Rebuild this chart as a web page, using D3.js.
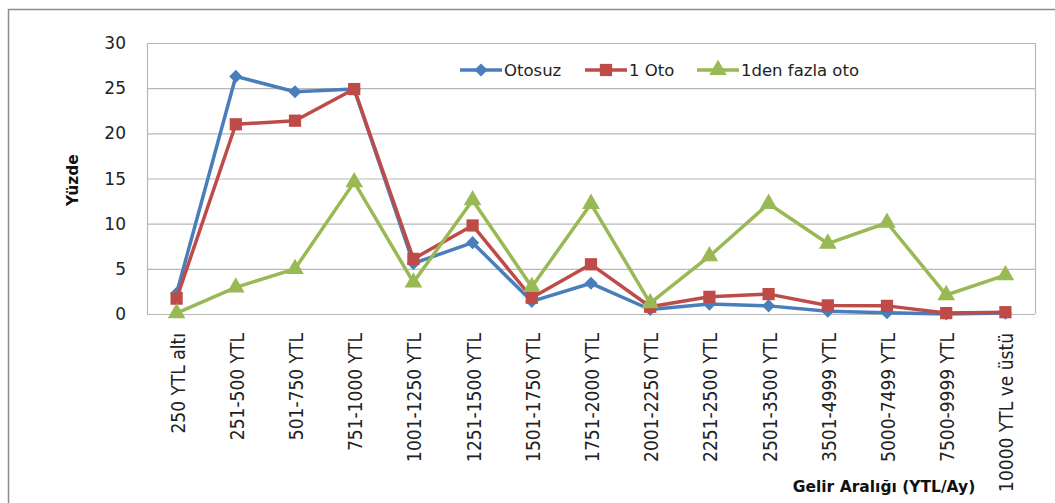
<!DOCTYPE html>
<html>
<head>
<meta charset="utf-8">
<script src="https://cdn.jsdelivr.net/npm/d3@7"></script>
<style>
  body { margin: 0; background: #fff; }
  svg { display: block; }
</style>
</head>
<body>
<div id="chart"></div>
<script>
// gelir araliklari (x ekseni)
const categories = ['250 YTL altı', '251-500 YTL', '501-750 YTL', '751-1000 YTL',
  '1001-1250 YTL', '1251-1500 YTL', '1501-1750 YTL', '1751-2000 YTL',
  '2001-2250 YTL', '2251-2500 YTL', '2501-3500 YTL', '3501-4999 YTL',
  '5000-7499 YTL', '7500-9999 YTL', '10000  YTL ve üstü'];

const seriesNames = ['Otosuz', '1 Oto', '1den fazla oto'];

const otosuz = [2.3, 26.3, 24.6, 24.9, 5.6, 7.9, 1.4, 3.4, 0.5, 1.1, 0.9, 0.3, 0.15, 0.0, 0.1];
const birOto = [1.7, 21.0, 21.4, 24.9, 6.1, 9.8, 1.8, 5.5, 0.8, 1.9, 2.2, 0.95, 0.9, 0.1, 0.2];
const fazlaOto = [0.1, 2.95, 5.0, 14.6, 3.5, 12.6, 3.0, 12.2, 1.2, 6.4, 12.2, 7.8, 10.1, 2.1, 4.3];

const yTicks = [0, 5, 10, 15, 20, 25, 30];

const width = 1055, height = 503;
const plot = { left: 147, top: 43, right: 1035, bottom: 314 };

const svg = d3.select('#chart').append('svg')
  .attr('width', width).attr('height', height);

// dis cerceve
svg.append('path')
  .attr('d', 'M8.5,503 V9.5 H1055')
  .attr('fill', 'none').attr('stroke', '#8c8c8c').attr('stroke-width', 1.5);

const x = d3.scaleBand().domain(categories).range([plot.left, plot.right]);
const y = d3.scaleLinear().domain([0, 30]).range([plot.bottom, plot.top]);

// yatay cizgiler
svg.append('g').selectAll('line').data(yTicks).enter().append('line')
  .attr('x1', plot.left).attr('x2', plot.right)
  .attr('y1', d => y(d) + 0.5).attr('y2', d => y(d) + 0.5)
  .attr('stroke', '#b8b8b8').attr('stroke-width', 1.2);

svg.append('line')
  .attr('x1', plot.left + 0.5).attr('x2', plot.left + 0.5)
  .attr('y1', plot.top).attr('y2', plot.bottom)
  .attr('stroke', '#b8b8b8').attr('stroke-width', 1.2);
svg.append('line')
  .attr('x1', plot.right + 0.5).attr('x2', plot.right + 0.5)
  .attr('y1', plot.top).attr('y2', plot.bottom)
  .attr('stroke', '#b8b8b8').attr('stroke-width', 1.2);

// y ekseni etiketleri
svg.append('g').selectAll('text').data(yTicks).enter().append('text')
  .attr('x', 126).attr('y', d => y(d))
  .attr('dy', '0.36em')
  .attr('text-anchor', 'end')
  .attr('font-family', 'DejaVu Sans, sans-serif')
  .attr('font-size', 17)
  .attr('fill', '#222')
  .text(d => d);

svg.append('text')
  .attr('transform', 'translate(78,180) rotate(-90)')
  .attr('text-anchor', 'middle')
  .attr('font-family', 'DejaVu Sans, sans-serif')
  .attr('font-weight', 'bold')
  .attr('font-size', 15.5)
  .attr('fill', '#111')
  .text('Yüzde');

// x ekseni etiketleri
svg.append('g').selectAll('text').data(categories).enter().append('text')
  .attr('transform', d => 'translate(' + (x(d) + x.bandwidth() / 2 + 8) + ',333) rotate(-90)')
  .attr('text-anchor', 'end')
  .attr('font-family', 'Liberation Sans Narrow, DejaVu Sans Condensed, sans-serif')
  .attr('font-size', 19)
  .attr('fill', '#222')
  .text(d => d);

svg.append('text')
  .attr('x', 884).attr('y', 492)
  .attr('text-anchor', 'middle')
  .attr('font-family', 'DejaVu Sans, sans-serif')
  .attr('font-weight', 'bold')
  .attr('font-size', 15.5)
  .attr('fill', '#111')
  .text('Gelir Aralığı (YTL/Ay)');

const colors = ['#4a7ebb', '#be4b48', '#98b954'];
const allSeries = [otosuz, birOto, fazlaOto];
const symbols = [
  d3.symbol().type(d3.symbolDiamond2).size(110),
  d3.symbol().type(d3.symbolSquare).size(150),
  d3.symbol().type(d3.symbolTriangle).size(135)
];

const line = d3.line()
  .x((d, i) => x(categories[i]) + x.bandwidth() / 2)
  .y(d => y(d));

allSeries.forEach((vals, s) => {
  const g = svg.append('g');
  g.append('path')
    .attr('d', line(vals))
    .attr('fill', 'none')
    .attr('stroke', colors[s])
    .attr('stroke-width', 3.5)
    .attr('stroke-linejoin', 'round');
  g.selectAll('path.m').data(vals).enter().append('path')
    .attr('class', 'm')
    .attr('transform', (d, i) => 'translate(' + (x(categories[i]) + x.bandwidth() / 2) + ',' + y(d) + ')')
    .attr('d', symbols[s]())
    .attr('fill', colors[s]);
});

// lejant
const legendX = [460, 585, 697];
seriesNames.forEach((name, s) => {
  const g = svg.append('g').attr('transform', 'translate(' + legendX[s] + ',70)');
  g.append('line').attr('x1', 0).attr('x2', 42).attr('y1', 0).attr('y2', 0)
    .attr('stroke', colors[s]).attr('stroke-width', 3.5);
  g.append('path').attr('transform', 'translate(21,0)').attr('d', symbols[s]()).attr('fill', colors[s]);
  g.append('text')
    .attr('x', 44).attr('y', 0).attr('dy', '0.36em')
    .attr('font-family', 'DejaVu Sans, sans-serif')
    .attr('font-size', 16.5)
    .attr('fill', '#222')
    .text(name);
});
</script>
</body>
</html>
